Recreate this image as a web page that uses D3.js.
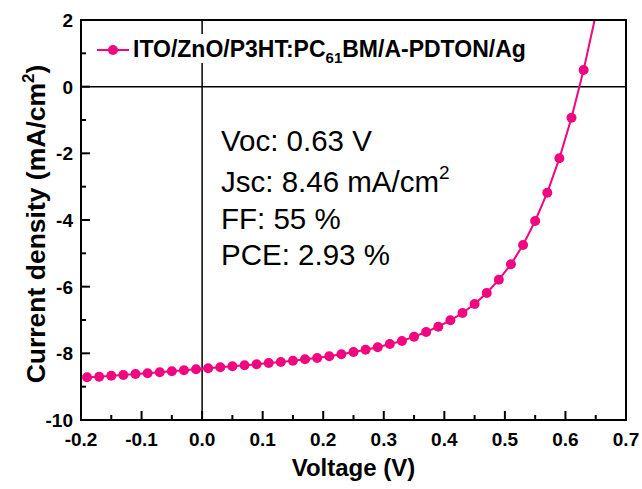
<!DOCTYPE html>
<html lang="en">
<head>
  <meta charset="UTF-8">
  <title>J-V curve</title>
  <style>
    body { margin: 0; background: #fff; }
    text { font-family: Arial, "Liberation Sans", sans-serif; }
  </style>
</head>
<body>
  <div id="chart"></div>
  <script src="https://d3js.org/d3.v7.min.js"></script>
  <script>
// values
const voltage = [-0.19, -0.17, -0.15, -0.13, -0.11, -0.09, -0.07, -0.05, -0.03, -0.01,
  0.01, 0.03, 0.05, 0.07, 0.09, 0.11, 0.13, 0.15, 0.17, 0.19,
  0.21, 0.23, 0.25, 0.27, 0.29, 0.31, 0.33, 0.35, 0.37, 0.39,
  0.41, 0.43, 0.45, 0.47, 0.49, 0.51, 0.53, 0.55, 0.57, 0.59,
  0.61, 0.63, 0.65]
const current = [-8.72, -8.70, -8.67, -8.65, -8.62, -8.60, -8.57, -8.54, -8.51, -8.48,
  -8.45, -8.42, -8.39, -8.36, -8.33, -8.29, -8.26, -8.22, -8.18, -8.14,
  -8.09, -8.03, -7.96, -7.89, -7.82, -7.72, -7.63, -7.50, -7.36, -7.20,
  -7.01, -6.79, -6.52, -6.19, -5.79, -5.33, -4.75, -4.03, -3.18, -2.15,
  -0.93, 0.50, 2.15]
const xTicks = [-0.2, -0.1, 0.0, 0.1, 0.2, 0.3, 0.4, 0.5, 0.6, 0.7]
const xMinor = [-0.15, -0.05, 0.05, 0.15, 0.25, 0.35, 0.45, 0.55, 0.65]
const yTicks = [-10, -8, -6, -4, -2, 0, 2]
const yMinor = [-9, -7, -5, -3, -1, 1]
const seriesName = 'ITO/ZnO/P3HT:PC'
const notes = ['Voc: 0.63 V', 'Jsc: 8.46 mA/cm', 'FF: 55 %', 'PCE: 2.93 %']

const pink = '#f0077f'
const margin = {top: 20, right: 16, bottom: 69, left: 81}
const width = 642, height = 489

const data = voltage.map((v, i) => ({v: v, j: current[i]}))

const x = d3.scaleLinear()
  .domain([-0.2, 0.7])
  .range([margin.left, width - margin.right])
const y = d3.scaleLinear()
  .domain([-10, 2])
  .range([height - margin.bottom, margin.top])

const svg = d3.select('#chart')
  .append('svg')
    .attr('width', width)
    .attr('height', height)

svg.append('clipPath')
    .attr('id', 'plot-clip')
  .append('rect')
    .attr('x', x(-0.2))
    .attr('y', y(2))
    .attr('width', x(0.7) - x(-0.2))
    .attr('height', y(-10) - y(2))

// zero lines
svg.append('line')
  .attr('x1', x(0)).attr('x2', x(0))
  .attr('y1', y(2)).attr('y2', y(-10))
  .attr('stroke', '#000').attr('stroke-width', 1.5)
svg.append('line')
  .attr('x1', x(-0.2)).attr('x2', x(0.7))
  .attr('y1', y(0)).attr('y2', y(0))
  .attr('stroke', '#000').attr('stroke-width', 1.5)

// curve
const plot = svg.append('g').attr('clip-path', 'url(#plot-clip)')
plot.append('path')
  .datum(data)
  .attr('fill', 'none')
  .attr('stroke', pink)
  .attr('stroke-width', 2)
  .attr('d', d3.line().x(d => x(d.v)).y(d => y(d.j)))
plot.selectAll('circle')
  .data(data)
  .enter()
  .append('circle')
    .attr('cx', d => x(d.v))
    .attr('cy', d => y(d.j))
    .attr('r', 5)
    .attr('fill', pink)

// ticks, pointing inwards
const bottom = y(-10), left = x(-0.2)
const tickData = xTicks.slice(1).map(d => ({d: d, len: 9})).concat(xMinor.map(d => ({d: d, len: 5})))
const ytickData = yTicks.slice(1).map(d => ({d: d, len: 9})).concat(yMinor.map(d => ({d: d, len: 5})))
const ticks = svg.append('g')
ticks.selectAll('line.xt')
  .data(tickData)
  .join('line')
    .attr('class', 'xt')
    .attr('x1', t => x(t.d)).attr('x2', t => x(t.d))
    .attr('y1', bottom).attr('y2', t => bottom - t.len)
    .attr('stroke', '#000').attr('stroke-width', 2)
ticks.selectAll('line.yt')
  .data(ytickData)
  .join('line')
    .attr('class', 'yt')
    .attr('x1', left).attr('x2', t => left + t.len)
    .attr('y1', t => y(t.d)).attr('y2', t => y(t.d))
    .attr('stroke', '#000').attr('stroke-width', 2)

const fmtX = d => d3.format('.1f')(d).replace('\u2212', '-')
const fmtY = d => String(d)

svg.append('g').selectAll('text')
  .data(xTicks)
  .enter().append('text')
    .attr('x', d => x(d))
    .attr('y', bottom + 26)
    .attr('text-anchor', 'middle')
    .style('font-size', '19px')
    .style('font-weight', 'bold')
    .text(fmtX)
svg.append('g').selectAll('text')
  .data(yTicks)
  .enter().append('text')
    .attr('x', left - 8)
    .attr('y', d => y(d) + 7)
    .attr('text-anchor', 'end')
    .style('font-size', '19px')
    .style('font-weight', 'bold')
    .text(fmtY)

// frame
svg.append('rect')
  .attr('x', x(-0.2)).attr('y', y(2))
  .attr('width', x(0.7) - x(-0.2))
  .attr('height', y(-10) - y(2))
  .attr('fill', 'none')
  .attr('stroke', '#000')
  .attr('stroke-width', 2)

// legend
svg.append('rect')
  .attr('x', 90).attr('y', 34)
  .attr('width', 445).attr('height', 29)
  .attr('fill', '#fff')
svg.append('line')
  .attr('x1', 97).attr('x2', 129)
  .attr('y1', 50).attr('y2', 50)
  .attr('stroke', pink).attr('stroke-width', 2)
svg.append('circle')
  .attr('cx', 113).attr('cy', 50).attr('r', 5)
  .attr('fill', pink)
const leg = svg.append('text')
  .attr('x', 133).attr('y', 57)
  .style('font-size', '23px')
  .style('font-weight', 'bold')
leg.append('tspan').text(seriesName)
leg.append('tspan').attr('dy', 6).style('font-size', '15px').text('61')
leg.append('tspan').attr('dy', -6).text('BM/A-PDTON/Ag')

// annotations
const noteY = [151, 192, 229, 265]
notes.forEach((t, i) => {
  const n = svg.append('text')
    .attr('x', 221).attr('y', noteY[i])
    .style('font-size', '29.5px')
  n.append('tspan').text(t)
  if (i === 1) n.append('tspan').attr('dy', -13).style('font-size', '19px').text('2')
})

// axis titles
svg.append('text')
  .attr('x', (x(-0.2) + x(0.7)) / 2)
  .attr('y', 476)
  .attr('text-anchor', 'middle')
  .style('font-size', '24px')
  .style('font-weight', 'bold')
  .text('Voltage (V)')
const yl = svg.append('text')
  .attr('transform', 'translate(45, 224) rotate(-90)')
  .attr('text-anchor', 'middle')
  .style('font-size', '26.5px')
  .style('font-weight', 'bold')
yl.append('tspan').text('Current density (mA/cm')
yl.append('tspan').attr('dy', -11).style('font-size', '17px').text('2')
yl.append('tspan').attr('dy', 11).text(')')
  </script>
</body>
</html>
